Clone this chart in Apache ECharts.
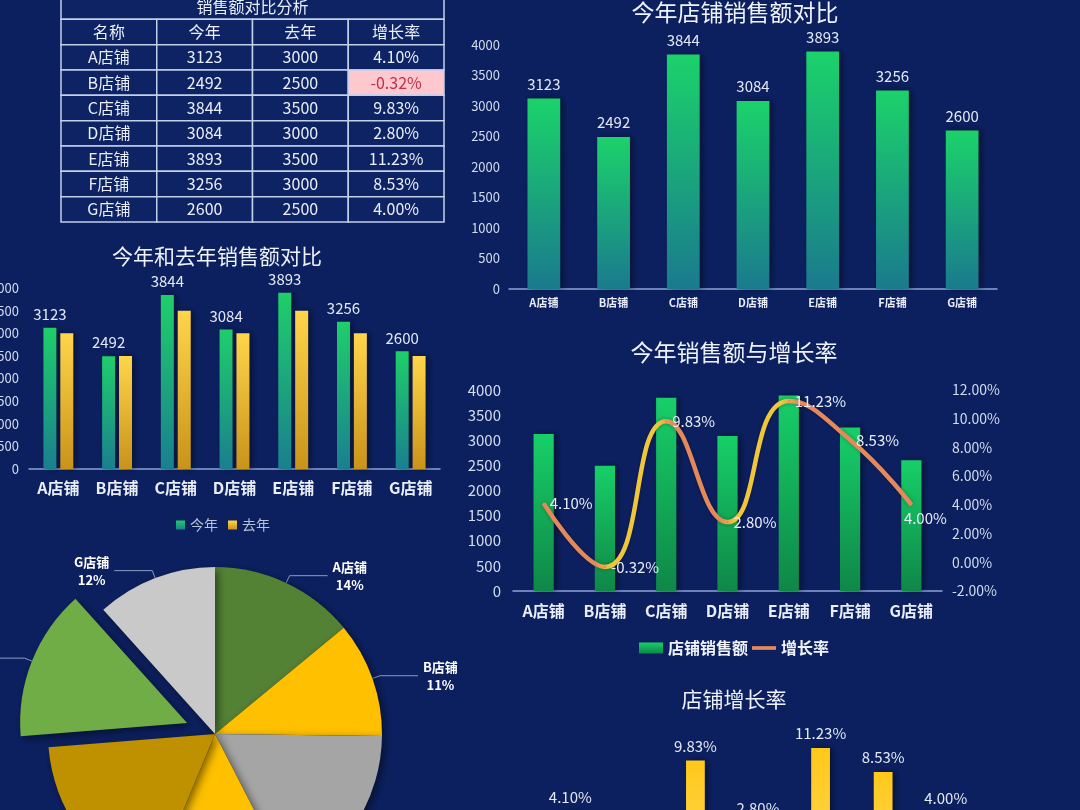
<!DOCTYPE html>
<html lang="zh">
<head>
<meta charset="UTF-8">
<title>店铺销售额分析</title>
<script src="https://cdn.jsdelivr.net/npm/echarts@6/dist/echarts.min.js"></script>
<style>
  html, body { margin: 0; height: 100%; background: #0c2060; }
  #main { width: 1080px; height: 810px; }
</style>
</head>
<body>
<div id="main"></div>
<script>
  // 数据
  const stores = ['A店铺', 'B店铺', 'C店铺', 'D店铺', 'E店铺', 'F店铺', 'G店铺'];
  const thisYear = [3123, 2492, 3844, 3084, 3893, 3256, 2600];
  const lastYear = [3000, 2500, 3500, 3000, 3500, 3000, 2500];
  const growth = [4.10, -0.32, 9.83, 2.80, 11.23, 8.53, 4.00];
  const tableTitle = '销售额对比分析';
  const tableHead = ['名称', '今年', '去年', '增长率'];

  const pieColors = ['#548235', '#ffc000', '#a5a5a5', '#ffc000', '#bf9000', '#70ad47', '#c9c9c9'];
  const FONT = '"Noto Sans CJK SC", "Noto Sans", sans-serif';
  const BG = '#0c2060';

  function vGrad(top, bottom) {
    return new echarts.graphic.LinearGradient(0, 0, 0, 1, [
      { offset: 0, color: top },
      { offset: 1, color: bottom }
    ]);
  }

  // 表格单元格
  const cells = [{ col: 0, row: 0, span: 4, text: tableTitle }];
  tableHead.forEach((t, i) => cells.push({ col: i, row: 1, span: 1, text: t }));
  stores.forEach((s, i) => {
    const r = i + 2;
    cells.push({ col: 0, row: r, span: 1, text: s });
    cells.push({ col: 1, row: r, span: 1, text: String(thisYear[i]) });
    cells.push({ col: 2, row: r, span: 1, text: String(lastYear[i]) });
    cells.push({ col: 3, row: r, span: 1, text: growth[i].toFixed(2) + '%', neg: growth[i] < 0 });
  });
  const tableRows = ['title', 'head'].concat(stores);

  // 折线颜色：上升段黄色，下降段橙色
  const upColor = '#f0c63a', downColor = '#e5895a';
  const lineStops = [];
  for (let i = 0; i < growth.length - 1; i++) {
    const c = growth[i + 1] >= growth[i] ? upColor : downColor;
    const n = growth.length - 1;
    lineStops.push({ offset: i === 0 ? 0 : i / n + 0.02, color: c });
    lineStops.push({ offset: i === n - 1 ? 1 : (i + 1) / n - 0.02, color: c });
  }

  const barShadow = { shadowColor: 'rgba(0,0,0,0.45)', shadowBlur: 6, shadowOffsetX: 3 };
  const axisLineStyle = { show: true, lineStyle: { color: '#8da3d6', width: 1.5 } };
  const plain = v => String(v);

  const chart = echarts.init(document.getElementById('main'));

  const option = {
    backgroundColor: BG,
    animation: false,
    textStyle: { fontFamily: FONT },
    title: [
      { text: '今年店铺销售额对比', left: 735, top: 1, textAlign: 'center', padding: 0,
        textStyle: { color: '#eef2fa', fontSize: 23, fontWeight: 'normal', fontFamily: FONT } },
      { text: '今年和去年销售额对比', left: 217, top: 246, textAlign: 'center', padding: 0,
        textStyle: { color: '#eef2fa', fontSize: 21, fontWeight: 'normal', fontFamily: FONT } },
      { text: '今年销售额与增长率', left: 734, top: 341, textAlign: 'center', padding: 0,
        textStyle: { color: '#eef2fa', fontSize: 23, fontWeight: 'normal', fontFamily: FONT } },
      { text: '店铺增长率', left: 734, top: 689, textAlign: 'center', padding: 0,
        textStyle: { color: '#eef2fa', fontSize: 21, fontWeight: 'normal', fontFamily: FONT } }
    ],
    legend: [
      { data: ['今年', '去年'], left: 171, top: 513, icon: 'rect', itemWidth: 9, itemHeight: 9, itemGap: 10,
        textStyle: { color: '#b8c2d8', fontSize: 14, fontFamily: FONT } },
      { data: [
          { name: '店铺销售额', icon: 'rect' },
          { name: '增长率', icon: 'path://M0,0H26V4H0Z', itemStyle: { color: downColor, borderWidth: 0 } }
        ],
        left: 634, top: 635, itemWidth: 24, itemHeight: 11, itemGap: 4,
        textStyle: { color: '#f0f3fa', fontSize: 16, fontWeight: 'bold', fontFamily: FONT } }
    ],
    grid: [
      { left: 61, top: -6, width: 383, height: 228, outerBoundsMode: 'none', containLabel: false },
      { left: 509, top: 45, width: 488, height: 244, outerBoundsMode: 'none', containLabel: false },
      { left: 29, top: 288, width: 411, height: 181, outerBoundsMode: 'none', containLabel: false },
      { left: 513, top: 390, width: 429, height: 201, outerBoundsMode: 'none', containLabel: false },
      { left: 539, top: 741, width: 438, height: 125, outerBoundsMode: 'none', containLabel: false }
    ],
    xAxis: [
      { gridIndex: 0, type: 'category', data: tableHead, show: false },
      { gridIndex: 1, type: 'category', data: stores, axisTick: { show: false }, axisLine: axisLineStyle,
        axisLabel: { color: '#e8edf7', fontSize: 11, fontWeight: 'bold', margin: 8, interval: 0 } },
      { gridIndex: 2, type: 'category', data: stores, axisTick: { show: false }, axisLine: axisLineStyle,
        axisLabel: { color: '#e8edf7', fontSize: 16, fontWeight: 'bold', margin: 11, interval: 0 } },
      { gridIndex: 3, type: 'category', data: stores, axisTick: { show: false }, axisLine: axisLineStyle,
        axisLabel: { color: '#e8edf7', fontSize: 16, fontWeight: 'bold', margin: 12, interval: 0 } },
      { gridIndex: 4, type: 'category', data: stores, show: false }
    ],
    yAxis: [
      { gridIndex: 0, type: 'category', data: tableRows, inverse: true, show: false },
      { gridIndex: 1, type: 'value', min: 0, max: 4000, interval: 500, splitLine: { show: false },
        axisLabel: { color: '#d3dbee', fontSize: 13, margin: 9, formatter: plain } },
      { gridIndex: 2, type: 'value', min: 0, max: 4000, interval: 500, splitLine: { show: false },
        axisLabel: { color: '#d3dbee', fontSize: 13, margin: 10, formatter: plain } },
      { gridIndex: 3, type: 'value', min: 0, max: 4000, interval: 500, splitLine: { show: false },
        axisLabel: { color: '#d3dbee', fontSize: 15, margin: 12, formatter: plain } },
      { gridIndex: 3, type: 'value', position: 'right', min: -2, max: 12, interval: 2, splitLine: { show: false },
        axisLabel: { color: '#d3dbee', fontSize: 14, margin: 10, formatter: v => v.toFixed(2) + '%' } },
      { gridIndex: 4, type: 'value', min: -2, max: 12, show: false }
    ],
    series: [
      {
        name: '表格',
        type: 'custom',
        xAxisIndex: 0,
        yAxisIndex: 0,
        clip: false,
        data: cells.map(c => [c.col, c.row]),
        renderItem: function (params, api) {
          const c = cells[params.dataIndex];
          const p = api.coord([c.col, c.row]);
          const s = api.size([1, 1]);
          const x = p[0] - s[0] / 2, y = p[1] - s[1] / 2, w = s[0] * c.span, h = s[1];
          return {
            type: 'group',
            children: [
              { type: 'rect', shape: { x: x, y: y, width: w, height: h },
                style: { fill: c.neg ? '#ffc7ce' : '#0d2364', stroke: '#c3d0ea', lineWidth: 1.5 } },
              { type: 'text',
                style: { text: c.text, x: x + w / 2, y: y + h / 2, align: 'center', verticalAlign: 'middle',
                  fill: c.neg ? '#c0304a' : '#e9eef8', fontSize: 16, fontFamily: FONT } }
            ]
          };
        }
      },
      {
        name: '今年销售额',
        type: 'bar',
        xAxisIndex: 1,
        yAxisIndex: 1,
        data: thisYear,
        barWidth: '47%',
        itemStyle: Object.assign({ color: vGrad('#1bd26a', '#1a7a8e') }, barShadow),
        label: { show: true, position: 'top', distance: 7, color: '#e2e8f4', fontSize: 15 }
      },
      {
        name: '今年',
        type: 'bar',
        xAxisIndex: 2,
        yAxisIndex: 2,
        data: thisYear,
        barWidth: 13,
        barGap: '30%',
        itemStyle: Object.assign({ color: vGrad('#1fce6a', '#1a7f8f') }, barShadow),
        label: { show: true, position: 'top', distance: 6, color: '#e2e8f4', fontSize: 15 }
      },
      {
        name: '去年',
        type: 'bar',
        xAxisIndex: 2,
        yAxisIndex: 2,
        data: lastYear,
        barWidth: 13,
        itemStyle: Object.assign({ color: vGrad('#ffd54a', '#c9931a') }, barShadow)
      },
      {
        name: '店铺销售额',
        type: 'bar',
        xAxisIndex: 3,
        yAxisIndex: 3,
        data: thisYear,
        barWidth: '33%',
        itemStyle: Object.assign({ color: vGrad('#17cf68', '#0f8748') }, barShadow)
      },
      {
        name: '增长率',
        type: 'line',
        xAxisIndex: 3,
        yAxisIndex: 4,
        smooth: true,
        symbol: 'circle',
        symbolSize: 2,
        z: 5,
        data: growth.map((v, i) => i === growth.length - 1
          ? { value: v, label: { position: 'bottom', offset: [14, 0] } }
          : v),
        itemStyle: { color: downColor },
        lineStyle: { width: 4.5, color: new echarts.graphic.LinearGradient(0, 0, 1, 0, lineStops),
          shadowColor: 'rgba(0,0,0,0.3)', shadowBlur: 4 },
        label: { show: true, position: 'right', distance: 5, color: '#e8edf7', fontSize: 15,
          formatter: p => p.value.toFixed(2) + '%' }
      },
      {
        name: '店铺增长率',
        type: 'bar',
        xAxisIndex: 4,
        yAxisIndex: 5,
        data: growth,
        barWidth: '30%',
        itemStyle: Object.assign({ color: vGrad('#ffc81a', '#ffd448') }, barShadow),
        label: { show: true, position: 'top', distance: 7, color: '#e2e8f4', fontSize: 15,
          formatter: p => p.value.toFixed(2) + '%' }
      },
      {
        name: '销售额占比',
        type: 'pie',
        center: [215, 734],
        radius: 167,
        startAngle: 90,
        clockwise: true,
        avoidLabelOverlap: false,
        selectedMode: 'single',
        selectedOffset: 30,
        percentPrecision: 0,
        data: stores.map((s, i) => ({
          name: s,
          value: thisYear[i],
          selected: i === 5,
          itemStyle: { color: pieColors[i] }
        })),
        itemStyle: { shadowColor: 'rgba(0,0,0,0.5)', shadowBlur: 8, shadowOffsetX: 3, shadowOffsetY: 3 },
        label: {
          show: true,
          formatter: '{n|{b}}\n{n|{d}%}',
          rich: { n: { color: '#ffffff', fontSize: 13, fontWeight: 'bold', lineHeight: 18, align: 'center', fontFamily: FONT } }
        },
        labelLine: { show: true, length: 8, length2: 38, lineStyle: { color: '#8b9bc4', width: 1 } },
        emphasis: { scale: false }
      }
    ]
  };

  chart.setOption(option);
</script>
</body>
</html>
